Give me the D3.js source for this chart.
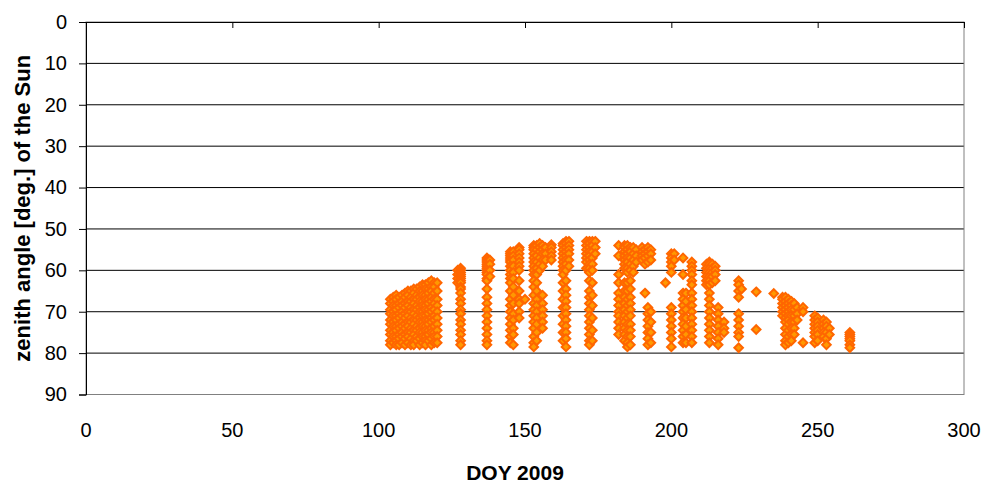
<!DOCTYPE html>
<html>
<head>
<meta charset="utf-8">
<script src="https://cdn.jsdelivr.net/npm/d3@7"></script>
<style>
  body { margin: 0; background: #fff; }
  svg { display: block; }
  text { font-family: "Liberation Sans", Arial, sans-serif; fill: #000; }
</style>
</head>
<body>
<div id="chart"></div>
<script>
// day of year of each measurement column
var days = [104, 105, 106, 107, 108, 109, 110, 111, 112, 113, 114, 115, 116, 117, 118, 119, 120,
            127, 128, 137, 138, 145, 146, 148, 150, 153, 154, 155, 156, 157, 159,
            163, 164, 165, 171, 172, 173, 174, 182, 184, 185, 186, 187, 188,
            190, 191, 192, 193, 198, 200, 201, 204, 205, 207, 212, 213, 214, 215, 216, 218,
            223, 224, 229, 235, 238, 239, 240, 241, 242, 243, 245, 249, 250, 252, 253, 254, 261];

// zenith angles (deg) measured on each of those days
var zenith = [
  [67, 68, 69.5, 70.5, 72, 73, 74.5, 75.5, 77, 78],
  [66.5, 67.5, 68.5, 70, 71, 72.5, 73.5, 75, 76, 77.5],
  [66, 67, 68.5, 69.5, 71, 72, 73.5, 74.5, 76, 77, 78],
  [66.5, 68, 69, 70.5, 71.5, 73, 74, 75.5, 76.5, 78],
  [66, 67.5, 68.5, 70, 71, 72.5, 73.5, 75, 76, 77.5],
  [65.5, 66.5, 68, 69, 70.5, 71.5, 73, 74, 75.5, 76.5, 78],
  [65, 66, 67.5, 68.5, 70, 71, 72.5, 73.5, 75, 76, 77.5],
  [65, 66.5, 67.5, 69, 70, 71.5, 72.5, 74, 75, 76.5, 78],
  [64.5, 65.5, 67, 68, 69.5, 70.5, 72, 73, 74.5, 75.5, 77, 78],
  [64.5, 66, 67, 68.5, 69.5, 71, 72, 73.5, 74.5, 76, 77],
  [64, 65, 66.5, 67.5, 69, 70, 71.5, 72.5, 74, 75, 76.5, 78],
  [63.5, 65, 66, 67.5, 68.5, 70, 71, 72.5, 73.5, 75, 76, 77.5],
  [63.5, 64.5, 66, 67, 68.5, 69.5, 71, 72, 73.5, 74.5, 76, 77, 78],
  [63, 64.5, 65.5, 67, 68, 69.5, 70.5, 72, 73, 74.5, 75.5, 77],
  [62.5, 64, 65, 66.5, 67.5, 69, 70, 71.5, 72.5, 74, 75, 76.5, 78],
  [63, 64, 65.5, 67, 68, 69.5, 71, 72, 73.5, 75, 76, 77.5],
  [63, 65, 67, 68.5, 70, 71.5, 73, 74.5, 76, 77.5],
  [60, 61, 62, 63],
  [59.5, 60, 60.5, 61, 61.5, 62, 62.5, 63, 64, 64.5, 65.5, 67, 68, 69.5, 70.5, 72, 73, 74.5, 75.5, 77, 78],
  [57, 57.5, 58, 58.5, 59, 59.5, 60, 60.5, 61, 62, 62.5, 64.5, 66.5, 68, 69.5, 71, 72.5, 74, 75.5, 77, 78],
  [57.5, 58.5, 60, 61.5],
  [55.5, 56, 56.5, 57, 57.5, 58, 59, 60, 61, 62, 63, 65, 67, 68.5, 70, 71.5, 73, 74.5, 76, 77.5],
  [55.5, 56.5, 57.5, 59, 60.5, 62, 64, 66, 68, 70.5, 72, 74, 75.5, 78],
  [54.5, 55, 56, 57, 58, 59, 60, 62.5, 65, 67, 68, 70, 71.5],
  [67],
  [54, 54.5, 55, 56, 57, 58, 59, 60, 61, 62.5, 64, 66, 68, 69.5, 71, 72.5, 74, 76, 77.5, 78.5],
  [54, 55, 56.5, 58, 59.5, 61, 63, 65, 67, 68.5, 70, 71.5, 73, 75, 77],
  [53.5, 54.5, 55.5, 57, 58.5, 60],
  [54, 55, 56, 57.5, 59, 66, 68, 69.5, 71, 72.5, 74],
  [54.5, 56, 57.5],
  [53.8, 54.5, 55.5, 56.5, 57.5],
  [53.5, 54, 55, 56, 57, 58, 59, 60, 61, 63, 65, 67, 69, 71, 73, 75, 77],
  [53, 53.5, 54.5, 55.5, 56.5, 57.5, 58.5, 60, 62.5, 64.5, 66, 67.5, 69, 70.5, 72, 73.5, 75, 76.5, 78.5],
  [53, 54, 55, 56, 57.5, 59],
  [53, 54, 55, 56, 57, 58, 59.5],
  [53, 53.5, 54.5, 55.5, 56.5, 57.5, 58.5, 59.5, 60.5, 62.5, 65, 66.5, 68, 69.5, 71, 72.5, 74, 75.5, 77, 78],
  [53, 54, 55.5, 57, 58.5, 60, 63, 66, 68.5, 71.5, 74.5, 77],
  [53, 54.5, 56],
  [54, 56.5, 61, 63, 65.5, 67, 68.5, 70, 71, 72.5, 74, 75.5],
  [54, 54.5, 55.5, 56.5, 57.5, 58.5, 59.5, 63, 65, 66.5, 68, 69.5, 71, 72.5, 74, 75.5, 77],
  [54, 55, 56, 57, 58, 59.5, 60.5, 63, 65, 67, 68.5, 70, 71.5, 73, 74.5, 76, 77.5, 78.5],
  [54.5, 55.5, 57, 58.5, 60, 62.5, 64.5, 66.5, 68, 69.5, 71, 73, 74.5, 76, 78],
  [54.5, 56, 57.5, 59, 60.5],
  [55, 56.5, 58],
  [54.5, 55.5, 56.5, 57.5],
  [55, 56, 57, 58.5, 65.5],
  [54.5, 55.5, 56.5, 58, 69, 70.5, 72, 73.5, 75, 76.5, 78],
  [55, 56, 57.5, 70, 72.5, 75, 77.5],
  [63],
  [56, 57, 58, 59, 60.5, 69, 70.5, 72, 73.5, 75, 76.5, 78.5],
  [56, 57.5],
  [57, 61, 65.5, 67, 68.5, 70, 71.5, 73, 74.5, 76, 77.5],
  [65.5, 67.5, 69.5, 71.5, 73.5, 75.5, 77.5],
  [58, 59, 60, 61, 62.5, 63.5, 65.5, 67, 68.5, 70, 71.5, 73, 74.5, 76, 77.5],
  [58.5, 59.5, 60.5, 61.5, 62.5, 63.5],
  [58, 58.5, 59.5, 60.5, 61.5, 62.5, 63.5, 65.5, 67, 68.5, 70, 71.5, 73, 74.5, 76, 77.5],
  [58.5, 59.5, 60.5, 61.5, 63],
  [59, 60, 61, 62.5],
  [69, 70.5, 72, 73.5, 75, 76.5, 78],
  [72.5, 74, 75],
  [62.5, 63.5, 65, 66.5, 70.5, 72, 73.5, 75, 76, 78.7],
  [64.5],
  [65.2, 74.3],
  [65.6],
  [66.5, 67, 68, 69, 70, 71],
  [66.5, 67.5, 68.5, 69.5, 70.5, 71.5, 72.5, 74, 75.5, 77, 78],
  [67, 68, 69, 70, 71, 72, 73, 74.5, 76, 77.5],
  [67.5, 68.5, 69.5, 71, 72.5, 74, 75.5, 77],
  [68, 69.5, 71, 72.5, 74, 75.5],
  [69, 70.5, 72],
  [69, 70, 77.5],
  [71, 72, 73, 74, 75, 76, 77.5],
  [71.5, 72.5, 73.5, 74.5, 75.5, 77],
  [72, 73, 74, 75, 76],
  [72.5, 73.5, 75, 76.5, 78],
  [74, 75.5],
  [75, 75.5, 76, 76.5, 77, 78, 78.7]
];

var xTicks = [0, 50, 100, 150, 200, 250, 300];
var yTicks = [0, 10, 20, 30, 40, 50, 60, 70, 80, 90];
var xTitle = "DOY 2009";
var yTitle = "zenith angle [deg.] of the Sun";

var width = 984;
var height = 484;

var svg = d3.select("#chart")
    .append("svg")
    .attr("width", width)
    .attr("height", height);

var x = d3.scaleLinear().domain([0, 300]).range([86, 964]);
var y = d3.scaleLinear().domain([0, 90]).range([22, 394.5]);

// horizontal gridlines
svg.append("g").selectAll("line")
    .data(yTicks.filter(function(d) { return d > 0 && d < 90; }))
    .enter().append("line")
    .attr("x1", x(0)).attr("x2", x(300))
    .attr("y1", function(d) { return y(d); })
    .attr("y2", function(d) { return y(d); })
    .style("stroke", "#000")
    .style("stroke-width", 1);

// plot area frame (grey)
svg.append("rect")
    .attr("x", x(0)).attr("y", y(0))
    .attr("width", x(300) - x(0))
    .attr("height", y(90) - y(0))
    .style("fill", "none")
    .style("stroke", "#808080")
    .style("stroke-width", 1);

// value axis on the left
var yAxis = svg.append("g")
    .attr("transform", "translate(" + x(0) + ",0)")
    .call(d3.axisLeft(y).tickValues(yTicks).tickSize(7).tickPadding(12));
yAxis.select(".domain").style("stroke", "#000");
yAxis.selectAll(".tick line").style("stroke", "#000");
yAxis.selectAll("text")
    .style("font-size", "20px")
    .style("font-family", "'Liberation Sans', Arial, sans-serif");

// category axis crosses at 0 (top), ticks point inward, labels drawn at the bottom
var xAxis = svg.append("g")
    .attr("transform", "translate(0," + y(0) + ")")
    .call(d3.axisTop(x).tickValues(xTicks).tickSizeInner(-6).tickSizeOuter(0).tickFormat(""));
xAxis.select(".domain").style("stroke", "#000");
xAxis.selectAll(".tick line").style("stroke", "#000");

svg.append("g").selectAll("text")
    .data(xTicks)
    .enter().append("text")
    .attr("x", function(d) { return x(d); })
    .attr("y", 437)
    .attr("text-anchor", "middle")
    .style("font-size", "20px")
    .text(function(d) { return d; });

// axis titles
svg.append("text")
    .attr("x", 515)
    .attr("y", 480)
    .attr("text-anchor", "middle")
    .style("font-size", "21px")
    .style("font-weight", "bold")
    .text(xTitle);

svg.append("text")
    .attr("transform", "translate(30," + ((y(0) + y(90)) / 2) + ") rotate(-90)")
    .attr("text-anchor", "middle")
    .style("font-size", "22px")
    .style("font-weight", "bold")
    .text(yTitle);

// flatten the measurements into points
var points = [];
days.forEach(function(d, i) {
    zenith[i].forEach(function(z) {
        points.push({ doy: d, z: z });
    });
});

// diamond markers
svg.append("g").selectAll("path")
    .data(points)
    .enter().append("path")
    .attr("transform", function(d) { return "translate(" + x(d.doy) + "," + y(d.z) + ")"; })
    .attr("d", "M0,-4.3L4.3,0L0,4.3L-4.3,0Z")
    .style("fill", "#FF9900")
    .style("stroke", "#FF6600")
    .style("stroke-width", 2);
</script>
</body>
</html>
